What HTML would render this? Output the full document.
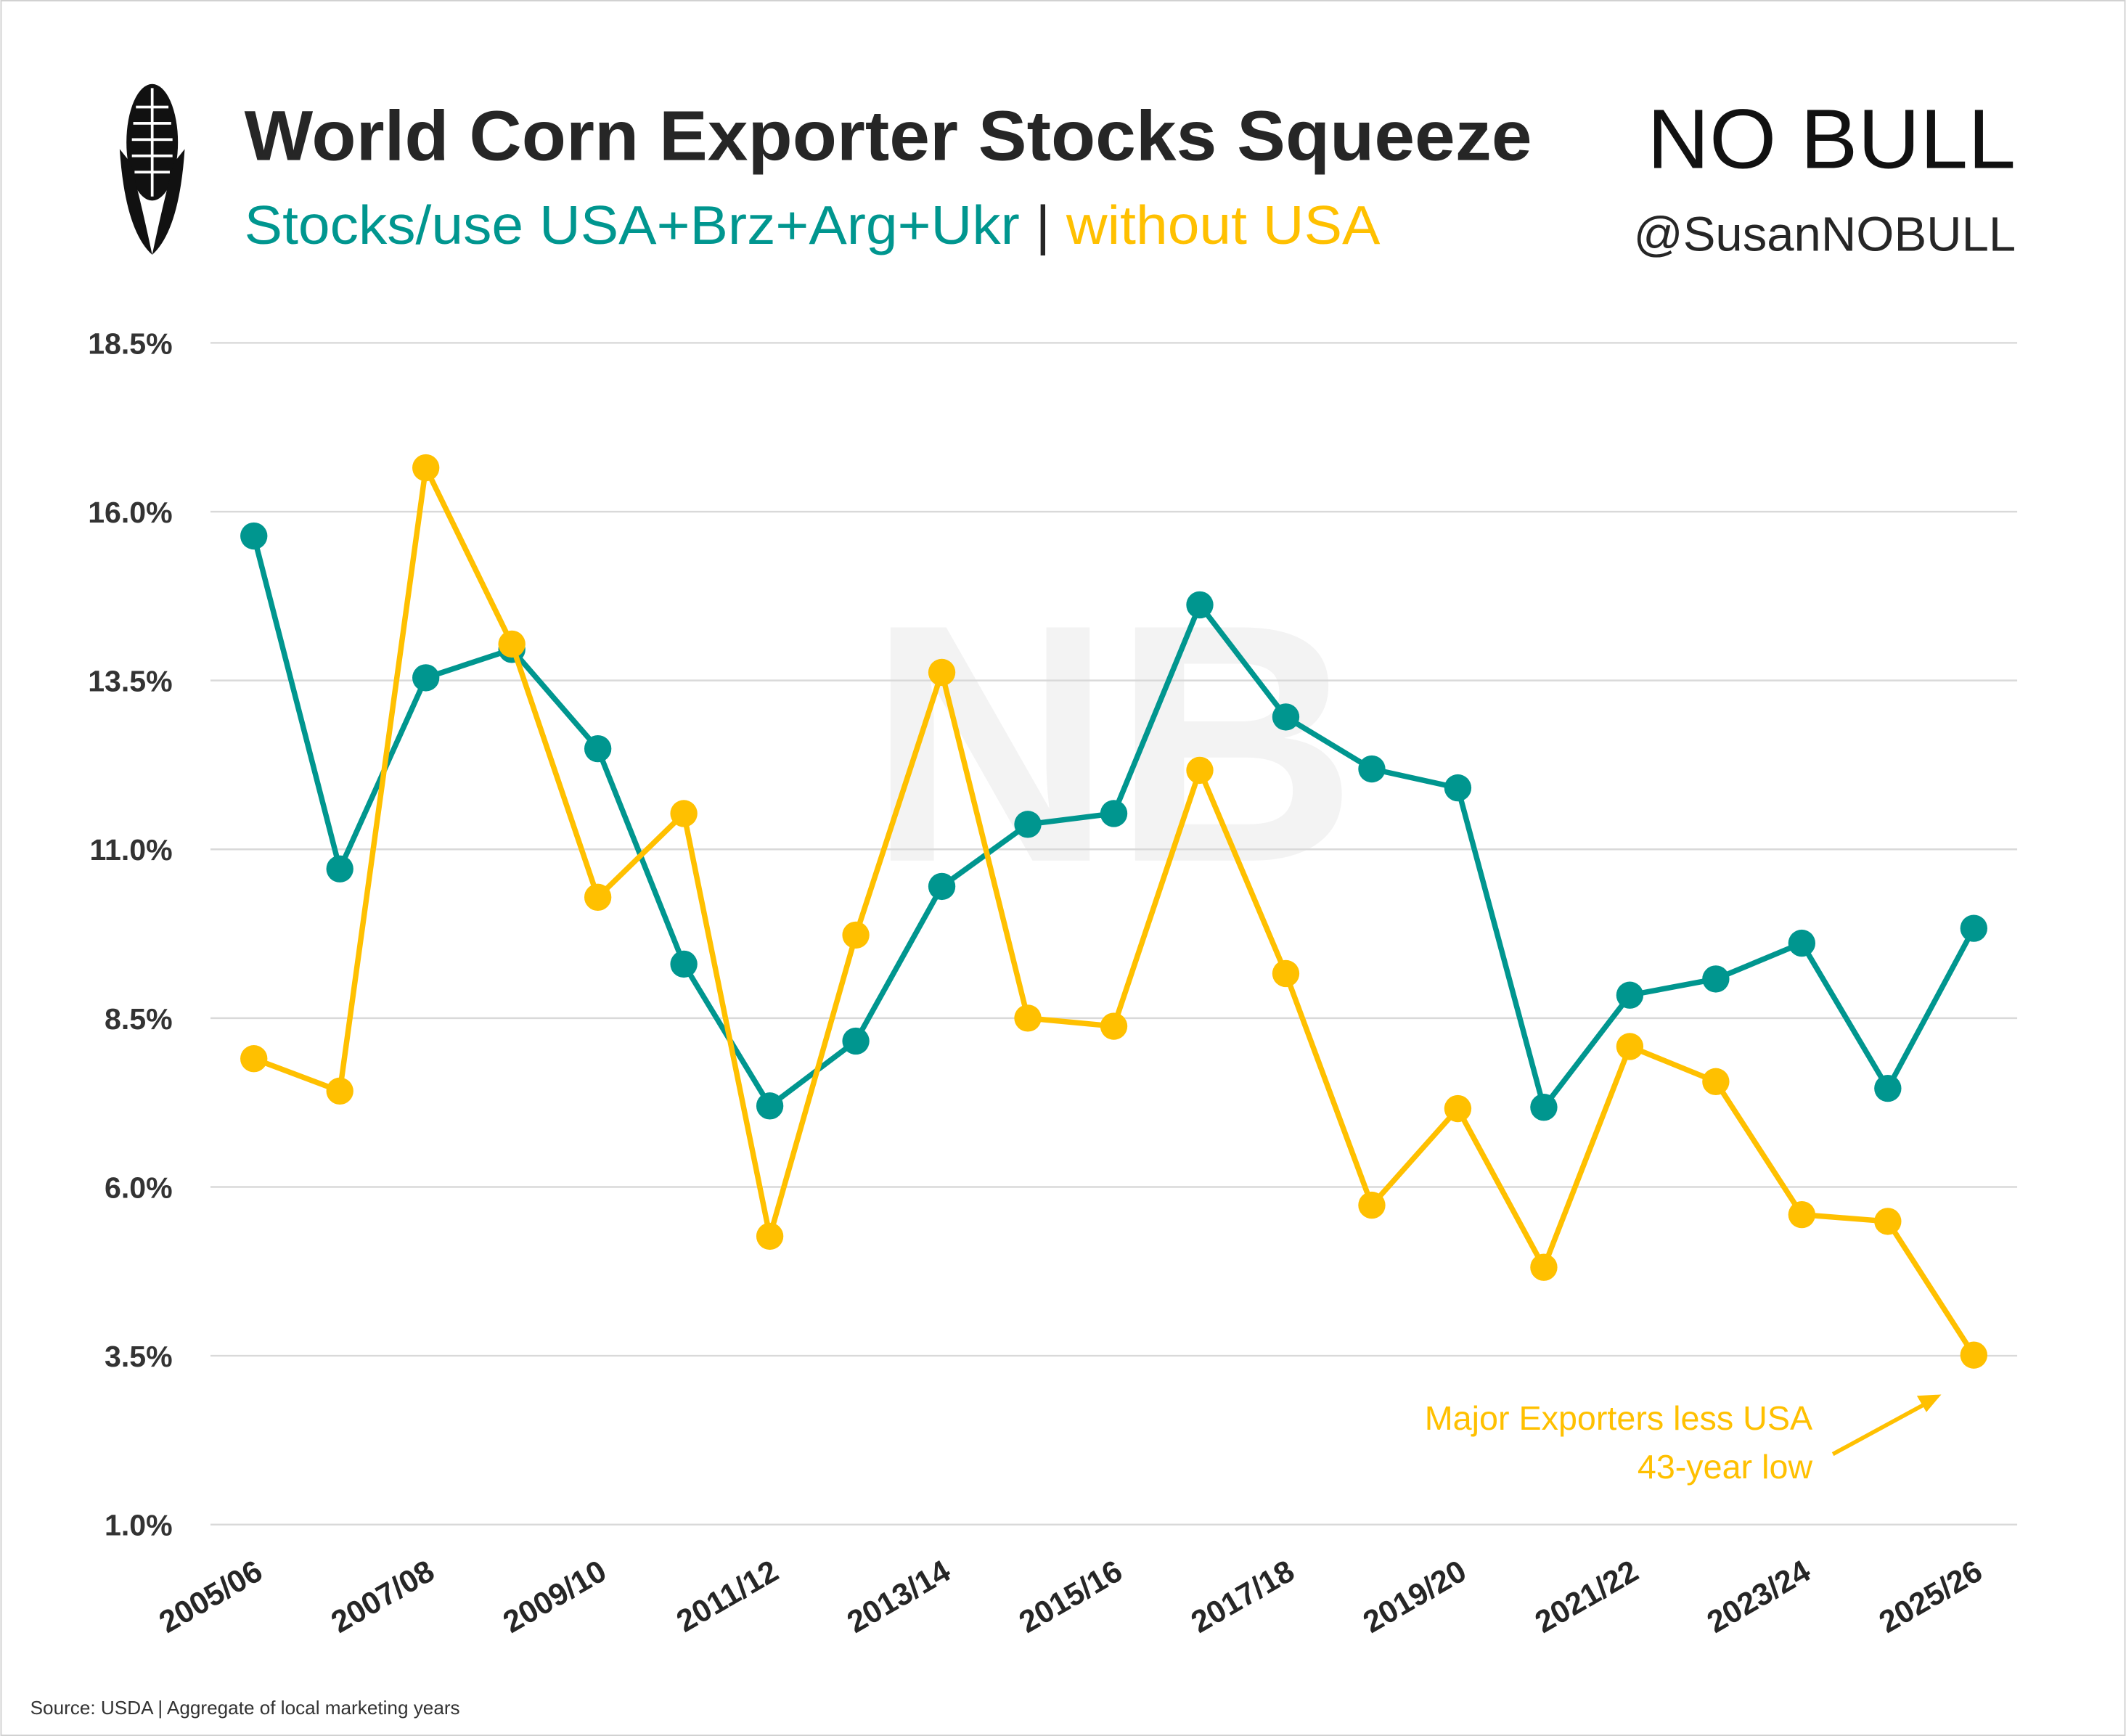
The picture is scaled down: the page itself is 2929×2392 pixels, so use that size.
<!DOCTYPE html>
<html><head><meta charset="utf-8"><style>
html,body{margin:0;padding:0;background:#fff;}
svg{display:block;font-family:"Liberation Sans",sans-serif;}
</style></head><body>
<svg width="2929" height="2392" viewBox="0 0 1568 1281" xmlns="http://www.w3.org/2000/svg">
<rect x="0.5" y="0.5" width="1567" height="1280" fill="#fff" stroke="#d0d0d0" stroke-width="1"/>
<text x="640" y="635" font-size="250" font-weight="bold" fill="#f3f3f3">NB</text>
<g fill="#111">
 <ellipse cx="112" cy="105" rx="19" ry="43"/>
 <path d="M88 110 Q92 170 112 188 Q104 150 96 120 Z"/>
 <path d="M136 110 Q132 170 112 188 Q120 150 128 120 Z"/>
</g>
<g fill="#fff">
 <rect x="100" y="78" width="24" height="2"/><rect x="98" y="90" width="28" height="2"/><rect x="97" y="102" width="30" height="2"/><rect x="97" y="114" width="30" height="2"/><rect x="99" y="126" width="26" height="2"/><rect x="111" y="65" width="2" height="80"/>
</g>
<text x="180" y="118" font-size="52" font-weight="bold" fill="#262626" textLength="950" lengthAdjust="spacingAndGlyphs">World Corn Exporter Stocks Squeeze</text>
<text x="180" y="180" font-size="40" textLength="838" lengthAdjust="spacingAndGlyphs"><tspan fill="#00968f">Stocks/use USA+Brz+Arg+Ukr </tspan><tspan fill="#262626">| </tspan><tspan fill="#ffc000">without USA</tspan></text>
<text x="1487" y="124" font-size="62" text-anchor="end" fill="#111" textLength="272" lengthAdjust="spacingAndGlyphs">NO BULL</text>
<text x="1487" y="185" font-size="36" text-anchor="end" fill="#262626" textLength="282" lengthAdjust="spacingAndGlyphs">@SusanNOBULL</text>
<g id="grid"></g><g id="ylab"></g><g id="xlab"></g><g id="series"></g>
<text x="1337" y="1055" font-size="25" text-anchor="end" fill="#ffc000">Major Exporters less USA</text>
<text x="1337" y="1091" font-size="25" text-anchor="end" fill="#ffc000">43-year low</text>
<g stroke="#ffc000" stroke-width="3" fill="#ffc000">
 <line x1="1352" y1="1073" x2="1422" y2="1035"/>
 <polygon points="1432,1029 1414,1030 1421,1042" stroke="none"/>
</g>
<text x="22" y="1265" font-size="14" fill="#333">Source: USDA | Aggregate of local marketing years</text>
<script>
var years=["2005/06","2006/07","2007/08","2008/09","2009/10","2010/11","2011/12","2012/13","2013/14","2014/15","2015/16","2016/17","2017/18","2018/19","2019/20","2020/21","2021/22","2022/23","2023/24","2024/25","2025/26"];
var withUSA=[15.64,10.71,13.54,13.96,12.49,9.30,7.20,8.16,10.45,11.37,11.53,14.62,12.96,12.19,11.91,7.18,8.84,9.08,9.61,7.46,9.83];
var withoutUSA=[7.90,7.42,16.65,14.04,10.29,11.53,5.27,9.73,13.62,8.50,8.38,12.17,9.16,5.73,7.16,4.81,8.08,7.56,5.59,5.49,3.51];
var yTicks=[1.0,3.5,6.0,8.5,11.0,13.5,16.0,18.5];
var NS="http://www.w3.org/2000/svg";
function X(i){return 187+i*(1456-187)/(years.length-1);}
function Y(v){return 1125-(v-1)*(1125-253)/17.5;}
function mk(t,a,p){var e=document.createElementNS(NS,t);for(var k in a)e.setAttribute(k,a[k]);p.appendChild(e);return e;}
var g=document.getElementById('grid'),yl=document.getElementById('ylab'),xl=document.getElementById('xlab'),s=document.getElementById('series');
yTicks.forEach(function(v){
 var l=mk('line',{x1:155,x2:1488,y1:Y(v),y2:Y(v),stroke:'#d9d9d9','stroke-width':1.3},g);
 
 
 var t=mk('text',{x:127,y:Y(v)+8,'font-size':22,'font-weight':'bold','text-anchor':'end',fill:'#333'},yl);
 t.textContent=v.toFixed(1)+'%';
 
 
});
years.forEach(function(yr,i){
 if(i%2)return;
 var x=X(i)+8,y=1164;
 var t=mk('text',{x:x,y:y,'font-size':23,'font-weight':'bold','text-anchor':'end',fill:'#262626',transform:'rotate(-30 '+x+' '+y+')'},xl);
 t.textContent=yr;
 
 
});
function draw(data,color,name){
 var pts=data.map(function(v,i){return X(i)+','+Y(v);}).join(' ');
 var pl=mk('polyline',{points:pts,fill:'none',stroke:color,'stroke-width':4,'stroke-linejoin':'round'},s);
 
 
 data.forEach(function(v,i){
  var c=mk('circle',{cx:X(i),cy:Y(v),r:10,fill:color},s);
  
  
 });
}
draw(withUSA,'#00968f','with-usa');
draw(withoutUSA,'#ffc000','without-usa');
</script>
</svg>
</body></html>
